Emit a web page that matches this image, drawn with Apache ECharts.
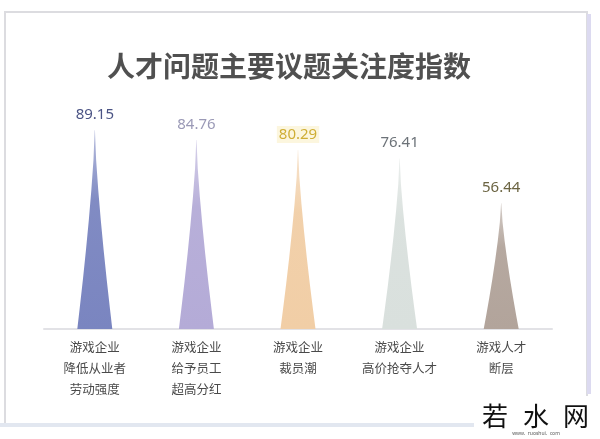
<!DOCTYPE html>
<html><head><meta charset="utf-8">
<script src="https://cdn.jsdelivr.net/npm/echarts@6/dist/echarts.min.js"></script>
<style>html,body{margin:0;padding:0;background:#fff;}#c{width:600px;height:439px;}</style>
</head><body><div id="c"></div>
<script>
var titleText = '人才问题主要议题关注度指数';
var categories = ['游戏企业\n降低从业者\n劳动强度', '游戏企业\n给予员工\n超高分红', '游戏企业\n裁员潮', '游戏企业\n高价抢夺人才', '游戏人才\n断层'];
var values = [89.15, 84.76, 80.29, 76.41, 56.44];
var barColors = ['#7a85c0', '#b4abd7', '#f1cea6', '#d9e0dd', '#b2a49b'];
var labelColors = ['#4a5384', '#9a99b6', '#cfae35', '#6c7278', '#6b6442'];

var chart = echarts.init(document.getElementById('c'));
var data = values.map(function (v, i) {
  return {
    value: v,
    itemStyle: {
      color: new echarts.graphic.LinearGradient(0, 0, 0, 1, [
        { offset: 0, color: echarts.color.modifyAlpha(barColors[i], 0.55) },
        { offset: 0.35, color: echarts.color.modifyAlpha(barColors[i], 0.95) },
        { offset: 1, color: barColors[i] }
      ])
    },
    label: {
      color: labelColors[i],
      backgroundColor: i === 2 ? 'rgba(250,240,200,0.6)' : 'transparent'
    }
  };
});

chart.setOption({
  animation: false,
  backgroundColor: '#fff',
  title: {
    text: titleText,
    left: 284, top: 47, textAlign: 'center',
    textStyle: { fontSize: 28, fontWeight: 'bold', color: '#505050', fontFamily: 'Noto Sans CJK SC' }
  },
  grid: { left: 44, right: 48, top: 106, bottom: 110 },
  xAxis: {
    type: 'category',
    data: categories,
    axisTick: { show: false },
    axisLine: { lineStyle: { color: '#e2e2e6', width: 2 } },
    axisLabel: { color: '#4a4a4a', fontSize: 12.5, lineHeight: 21, margin: 8, interval: 0, fontFamily: 'Noto Sans CJK SC' }
  },
  yAxis: { type: 'value', min: 0, max: 100, show: false, splitLine: { show: false } },
  series: [{
    type: 'pictorialBar',
    symbol: 'path://M0,100 L6.6,90 L16.1,75 L24.9,60 L33,45 L40.2,30 L46.2,15 L49.6,0 L50.4,0 L53.8,15 L59.8,30 L67,45 L75.1,60 L83.9,75 L93.4,90 L100,100 Z',
    symbolSize: [35, '100%'],
    barCategoryGap: '0%',
    label: {
      show: true, position: 'top', distance: 7,
      fontSize: 15, fontFamily: 'Noto Sans', padding: [1, 2]
    },
    data: data
  }],
  graphic: [
    { type: 'rect', shape: { x: 5, y: 12, width: 582, height: 412 }, style: { fill: 'none', stroke: '#dcdce0', lineWidth: 2 }, z: -1 },
    { type: 'rect', shape: { x: 587, y: 14, width: 4, height: 380 }, style: { fill: '#dcdaf0' }, z: -1 },
    { type: 'rect', shape: { x: 0, y: 423, width: 600, height: 4 }, style: { fill: '#e2e7f0' }, z: -1 },
    { type: 'rect', shape: { x: 474, y: 396, width: 126, height: 43 }, style: { fill: '#fff' }, z: 10 },
    { type: 'text', x: 495, y: 416, z: 11, style: { text: '若', fontSize: 26, fill: '#111', align: 'center', verticalAlign: 'middle', fontFamily: 'Noto Sans CJK SC' } },
    { type: 'text', x: 536, y: 416, z: 11, style: { text: '水', fontSize: 26, fill: '#111', align: 'center', verticalAlign: 'middle', fontFamily: 'Noto Sans CJK SC' } },
    { type: 'text', x: 576, y: 416, z: 11, style: { text: '网', fontSize: 26, fill: '#111', align: 'center', verticalAlign: 'middle', fontFamily: 'Noto Sans CJK SC' } },
    { type: 'text', x: 536, y: 434, z: 11, style: { text: 'www.  ruoshui.  com', fontSize: 5, fill: '#555', align: 'center', verticalAlign: 'middle', fontFamily: 'Noto Sans' } }
  ]
});
</script></body></html>
